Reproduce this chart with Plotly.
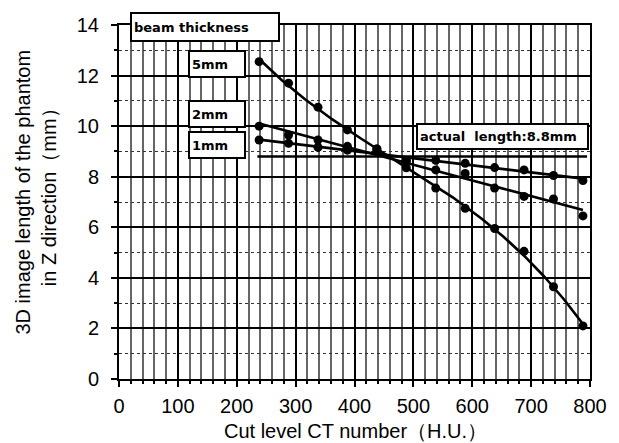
import numpy as np
import plotly.graph_objects as go

# ---- data ----
cut_level = [238, 288, 338, 388, 438, 488, 538, 588, 638, 688, 738, 788]
len_5mm = [12.55, 11.7, 10.75, 9.85, 9.1, 8.35, 7.55, 6.75, 5.95, 5.05, 3.65, 2.1]
len_2mm = [10.0, 9.65, 9.45, 9.2, 9.1, 8.6, 8.27, 8.13, 7.55, 7.22, 7.12, 6.45]
len_1mm = [9.45, 9.32, 9.16, 9.05, 9.0, 8.65, 8.65, 8.53, 8.36, 8.27, 8.05, 7.85]
actual_length = 8.8
actual_span = [235, 795]
x_ticks = [0, 100, 200, 300, 400, 500, 600, 700, 800]
y_ticks = [0, 2, 4, 6, 8, 10, 12, 14]

W, H = 619, 443
L, R, T, B = 119, 26, 25, 64
PW, PH = W - L - R, H - T - B

def px(xp):
    return (xp - L) / PW

def py(yp):
    return (H - B - yp) / PH

fig = go.Figure()

xs = np.linspace(min(cut_level), max(cut_level), 200)
fits = [(len_5mm, 3), (len_2mm, 1), (len_1mm, 1)]
for ys, deg in fits:
    coef = np.polyfit(cut_level, ys, deg)
    fig.add_trace(go.Scatter(x=xs, y=np.polyval(coef, xs), mode="lines",
                             line=dict(color="black", width=2.6),
                             hoverinfo="skip", showlegend=False))
    fig.add_trace(go.Scatter(x=cut_level, y=ys, mode="markers",
                             marker=dict(color="black", size=9),
                             showlegend=False))

fig.add_trace(go.Scatter(x=actual_span, y=[actual_length, actual_length],
                         mode="lines", line=dict(color="black", width=2.4),
                         showlegend=False))

axis_common = dict(showline=True, linewidth=2, linecolor="black", mirror=True,
                   ticks="outside", tickwidth=1.5, tickcolor="black", ticklen=6,
                   zeroline=False,
                   tickfont=dict(family="Liberation Sans, Arial", size=20, color="black"))

fig.update_xaxes(range=[0, 800], tickvals=x_ticks, gridcolor="black", gridwidth=1.8,
                 ticklabelstandoff=2,
                 minor=dict(dtick=20, showgrid=True, gridcolor="#666", gridwidth=1.5,
                            ticks="outside", ticklen=3, tickcolor="black"),
                 **axis_common)
fig.update_yaxes(range=[0, 14], tickvals=y_ticks, gridcolor="black", gridwidth=1.8,
                 ticklabelstandoff=8,
                 minor=dict(dtick=1, showgrid=True, gridcolor="#333", gridwidth=1.3,
                            griddash="dot", ticks="outside", ticklen=3, tickcolor="black"),
                 **axis_common)

box_font = dict(family="DejaVu Sans", size=13, color="black")
boxes = [
    ("<b>beam thickness</b>", 130, 12, 152, 28),
    ("<b>5mm</b>", 188, 50, 60, 26),
    ("<b>2mm</b>", 188, 100, 60, 26),
    ("<b>1mm</b>", 188, 131, 60, 26),
    ("<b>actual  length:8.8mm</b>", 418, 123, 175, 25),
]
annotations = []
for text, x0, y0, w, h in boxes:
    annotations.append(dict(text=text, xref="paper", yref="paper", x=px(x0), y=py(y0),
                            xanchor="left", yanchor="top", showarrow=False,
                            width=w - 10, height=h - 6, align="left", valign="middle",
                            bgcolor="white", bordercolor="black", borderwidth=2,
                            borderpad=2, font=box_font))

title_font = dict(family="Liberation Sans, Arial", size=20, color="black")
annotations.append(dict(text="Cut level CT number（H.U.）", xref="paper", yref="paper",
                        x=px(357), y=py(431), xanchor="center", yanchor="middle",
                        showarrow=False, font=title_font))
annotations.append(dict(text="3D image length of the phantom<br>in Z direction（mm）",
                        xref="paper", yref="paper", x=px(35), y=py(192),
                        xanchor="center", yanchor="middle", textangle=-90,
                        showarrow=False, font=title_font))

fig.update_layout(width=W, height=H, margin=dict(l=L, r=R, t=T, b=B),
                  plot_bgcolor="white", paper_bgcolor="white",
                  annotations=annotations, showlegend=False)

fig.write_html("out.html")
